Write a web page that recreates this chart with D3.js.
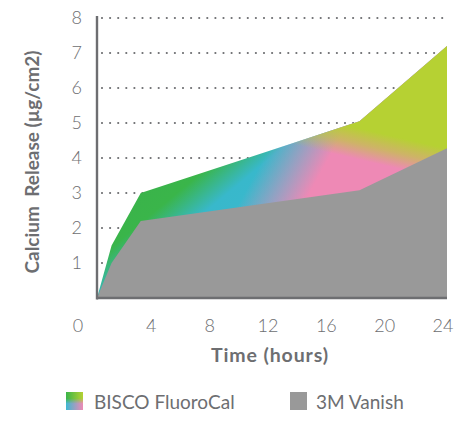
<!DOCTYPE html>
<html><head><meta charset="utf-8">
<script src="https://cdn.jsdelivr.net/npm/d3@7"></script>
<style>body{margin:0;background:#fff}svg{display:block}</style>
</head><body>
<script>
const hours = [0, 1, 3, 18, 24];
const fluorocal = [0, 1.5, 3.0, 5.05, 7.2];
const vanish = [0, 1.0, 2.2, 3.08, 4.28];
const xTicks = [0, 4, 8, 12, 16, 20, 24];
const yTicks = [1, 2, 3, 4, 5, 6, 7, 8];
const seriesNames = ["BISCO FluoroCal", "3M Vanish"];

const W = 464, H = 443;
const svg = d3.select("body").append("svg").attr("width", W).attr("height", H);
const x = d3.scaleLinear().domain([0, 24]).range([97, 447]);
const y = d3.scaleLinear().domain([0, 8]).range([298, 18]);
const txt = "#6d6e71";
const font = "Lato, 'Open Sans', sans-serif";

const defs = svg.append("defs");
function grad(id, x1, y1, x2, y2, stops) {
  const g = defs.append("linearGradient").attr("id", id).attr("gradientUnits", "userSpaceOnUse")
    .attr("x1", x1).attr("y1", y1).attr("x2", x2).attr("y2", y2);
  stops.forEach(([o, c, a]) => g.append("stop").attr("offset", o).attr("stop-color", c).attr("stop-opacity", a == null ? 1 : a));
}
// green -> cyan base
grad("base", 150, 130, 250, 250, [[0, "#39b04a"], [0.42, "#3ab54a"], [0.63, "#38b8cb"], [1, "#3cb8d0"]]);
// pink overlay
grad("pink", 250, 150, 350, 205, [[0, "#ee89b6", 0], [0.14, "#ee89b6", 0], [0.38, "#e98cb8", 0.5], [0.64, "#ee89b5", 1], [1, "#ee89b5", 1]]);
// yellow-green overlay
grad("over", 360, 175, 375, 110, [[0, "#b6d133", 0], [0.22, "#b6d133", 0], [0.45, "#b8d033", 0.6], [0.68, "#b6d133", 1], [1, "#b6d133", 1]]);

// legend gradient
const lg1 = defs.append("linearGradient").attr("id", "lg1").attr("x1", 0).attr("y1", 0).attr("x2", 1).attr("y2", 0);
[[0, "#3ab54a"], [1, "#b5d133"]].forEach(([o, c]) => lg1.append("stop").attr("offset", o).attr("stop-color", c));
const lg2 = defs.append("linearGradient").attr("id", "lg2").attr("x1", 0).attr("y1", 0).attr("x2", 1).attr("y2", 0);
[[0, "#3db8d2"], [1, "#ee8ab5"]].forEach(([o, c]) => lg2.append("stop").attr("offset", o).attr("stop-color", c));
const lgv = defs.append("linearGradient").attr("id", "lgv").attr("x1", 0).attr("y1", 0).attr("x2", 0).attr("y2", 1);
[[0, 0], [0.35, 0], [0.65, 1], [1, 1]].forEach(([o, a]) => lgv.append("stop").attr("offset", o).attr("stop-color", "#fff").attr("stop-opacity", a));
defs.append("mask").attr("id", "lm").attr("maskContentUnits", "objectBoundingBox")
  .append("rect").attr("width", 1).attr("height", 1).attr("fill", "url(#lgv)");

// gridlines
svg.append("g").selectAll("line").data(yTicks).join("line")
  .attr("x1", x(0) + 5).attr("x2", x(24) + 1).attr("y1", d => y(d)).attr("y2", d => y(d))
  .attr("stroke", txt).attr("stroke-width", 2.2).attr("stroke-linecap", "round")
  .attr("stroke-dasharray", "0,8.1");

const data = hours.map((h, i) => ({ h, a: fluorocal[i], b: vanish[i] }));
const areaA = d3.area().x(d => x(d.h)).y0(y(0)).y1(d => y(d.a));
const areaB = d3.area().x(d => x(d.h)).y0(y(0)).y1(d => y(d.b));
svg.append("path").datum(data).attr("d", areaA).attr("fill", "url(#base)");
svg.append("path").datum(data).attr("d", areaA).attr("fill", "url(#pink)");
svg.append("path").datum(data).attr("d", areaA).attr("fill", "url(#over)");
svg.append("path").datum(data).attr("d", areaB).attr("fill", "#999999");

// axes lines
svg.append("line").attr("x1", x(0)).attr("x2", x(0)).attr("y1", y(8) - 2).attr("y2", y(0) + 1.5)
  .attr("stroke", txt).attr("stroke-width", 2.4);
svg.append("line").attr("x1", x(0)).attr("x2", x(24)).attr("y1", y(0)).attr("y2", y(0))
  .attr("stroke", txt).attr("stroke-width", 2.4);

// tick labels
svg.append("g").selectAll("text").data(yTicks).join("text")
  .attr("x", 82).attr("y", d => y(d)).attr("dy", "0.36em").attr("text-anchor", "end")
  .attr("font-family", font).attr("font-weight", 300).attr("font-size", 18).attr("fill", txt).text(d => d);
svg.append("g").selectAll("text").data(xTicks).join("text")
  .attr("x", d => d === 0 ? x(d) - 19 : x(d) - 4).attr("y", 332).attr("text-anchor", "middle")
  .attr("font-family", font).attr("font-weight", 300).attr("font-size", 18).attr("fill", txt).text(d => d);

// titles
svg.append("text").attr("x", 270).attr("y", 362).attr("text-anchor", "middle")
  .attr("font-family", font).attr("font-weight", 700).attr("font-size", 19.5).attr("letter-spacing", 0.9)
  .attr("fill", txt).text("Time (hours)");
svg.append("text").attr("transform", "translate(39,162) rotate(-90)").attr("text-anchor", "middle")
  .attr("font-family", font).attr("font-weight", 700).attr("font-size", 19).attr("fill", txt)
  .attr("xml:space", "preserve").style("white-space", "pre").text("Calcium  Release (µg/cm2)");

// legend
const leg = svg.append("g");
leg.append("rect").attr("x", 66).attr("y", 392).attr("width", 17).attr("height", 18).attr("fill", "url(#lg1)");
leg.append("rect").attr("x", 66).attr("y", 392).attr("width", 17).attr("height", 18).attr("fill", "url(#lg2)").attr("mask", "url(#lm)");
leg.append("text").attr("x", 94).attr("y", 409).attr("font-family", font).attr("font-size", 19).attr("fill", txt).text(seriesNames[0]);
leg.append("rect").attr("x", 290).attr("y", 392).attr("width", 17).attr("height", 18).attr("fill", "#999999");
leg.append("text").attr("x", 316).attr("y", 409).attr("font-family", font).attr("font-size", 19).attr("fill", txt).text(seriesNames[1]);
</script>
</body></html>
